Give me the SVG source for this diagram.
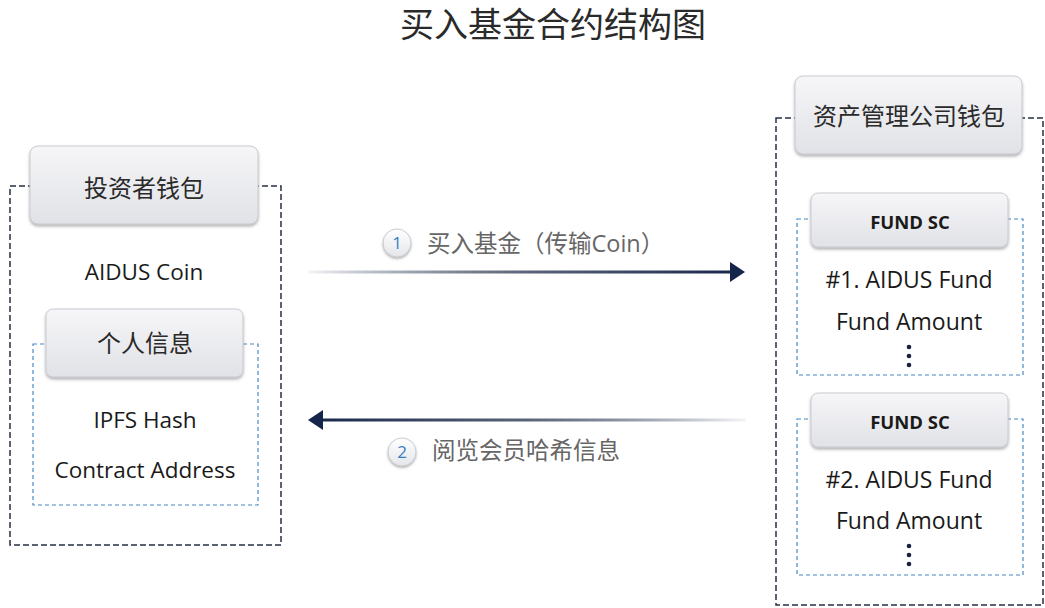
<svg xmlns="http://www.w3.org/2000/svg" width="1045" height="608" viewBox="0 0 1045 608">
<style>
.outer{fill:none;stroke:#263046;stroke-width:1.5;stroke-dasharray:6,3}
.inner{fill:none;stroke:#4a88c7;stroke-width:1.2;stroke-dasharray:4,3}
.hdr{fill:url(#hg);stroke:#c9cbd1;stroke-width:1;filter:url(#sh)}
.cjk{font-family:"Noto Sans CJK SC",sans-serif;fill:#2a2a2a;text-anchor:middle}
.lat{font-family:"Open Sans","Noto Sans",sans-serif;fill:#1a1a1a;text-anchor:middle}
.lbl{font-family:"Open Sans","Noto Sans CJK SC",sans-serif;fill:#666;font-size:23.5px}
.num{font-family:"Open Sans",sans-serif;fill:#3b7dc4;font-size:17px;text-anchor:middle}
.dot{fill:#1a2140}
</style>
<defs>
<linearGradient id="hg" x1="0" y1="0" x2="0" y2="1">
<stop offset="0" stop-color="#f6f6f8"/>
<stop offset="1" stop-color="#e1e2e7"/>
</linearGradient>
<linearGradient id="cg" x1="0" y1="0" x2="0" y2="1">
<stop offset="0" stop-color="#ffffff"/>
<stop offset="1" stop-color="#e4e6ea"/>
</linearGradient>
<linearGradient id="a1" x1="308" y1="0" x2="745" y2="0" gradientUnits="userSpaceOnUse">
<stop offset="0" stop-color="#1a2a4a" stop-opacity="0.05"/>
<stop offset="0.5" stop-color="#5a6478"/>
<stop offset="1" stop-color="#15244a"/>
</linearGradient>
<linearGradient id="a2" x1="745" y1="0" x2="308" y2="0" gradientUnits="userSpaceOnUse">
<stop offset="0" stop-color="#1a2a4a" stop-opacity="0.05"/>
<stop offset="0.5" stop-color="#5a6478"/>
<stop offset="1" stop-color="#15244a"/>
</linearGradient>
<filter id="sh" x="-10%" y="-10%" width="120%" height="130%">
<feDropShadow dx="0" dy="2" stdDeviation="1.5" flood-color="#555" flood-opacity="0.45"/>
</filter>
<filter id="csh" x="-30%" y="-30%" width="160%" height="170%">
<feDropShadow dx="0" dy="1.5" stdDeviation="1" flood-color="#666" flood-opacity="0.5"/>
</filter>
</defs>
<rect width="1045" height="608" fill="#ffffff"/>
<text id="title" x="553" y="37" class="cjk" font-size="34" fill="#333">买入基金合约结构图</text>

<g id="investor">
<rect class="outer" x="10" y="186" width="271" height="359"/>
<rect class="hdr" x="30" y="146" width="228" height="78" rx="8"/>
<text x="144" y="197" class="cjk" font-size="24">投资者钱包</text>
<text x="144" y="280" class="lat" font-size="22.5">AIDUS Coin</text>
</g>
<g id="personal">
<rect class="inner" x="33" y="344" width="225" height="161"/>
<rect class="hdr" x="46" y="309" width="197" height="68" rx="7"/>
<text x="145" y="352" class="cjk" font-size="24">个人信息</text>
<text x="145" y="428" class="lat" font-size="22.5">IPFS Hash</text>
<text x="145" y="478" class="lat" font-size="22.5">Contract Address</text>
</g>

<g id="company">
<rect class="outer" x="776" y="118" width="267" height="487"/>
<rect class="hdr" x="795" y="76" width="227" height="78" rx="8"/>
<text x="909" y="125" class="cjk" font-size="24">资产管理公司钱包</text>
</g>
<g id="fund1">
<rect class="inner" x="797" y="219" width="226" height="156"/>
<rect class="hdr" x="811" y="193" width="197" height="54" rx="7"/>
<text x="910" y="229" class="lat" font-size="18.5" font-weight="bold">FUND SC</text>
<text x="909" y="288" class="lat" font-size="23">#1. AIDUS Fund</text>
<text x="909" y="330" class="lat" font-size="23">Fund Amount</text>
<circle class="dot" cx="909" cy="347" r="2.3"/>
<circle class="dot" cx="909" cy="356" r="2.3"/>
<circle class="dot" cx="909" cy="365" r="2.3"/>
</g>
<g id="fund2">
<rect class="inner" x="797" y="419" width="226" height="156"/>
<rect class="hdr" x="811" y="393" width="197" height="54" rx="7"/>
<text x="910" y="429" class="lat" font-size="18.5" font-weight="bold">FUND SC</text>
<text x="909" y="488" class="lat" font-size="23">#2. AIDUS Fund</text>
<text x="909" y="529" class="lat" font-size="23">Fund Amount</text>
<circle class="dot" cx="909" cy="546" r="2.3"/>
<circle class="dot" cx="909" cy="555" r="2.3"/>
<circle class="dot" cx="909" cy="564" r="2.3"/>
</g>

<g id="connectors">
<rect x="308" y="270.5" width="424" height="3" fill="url(#a1)"/>
<path d="M730,262 L745,272 L730,282 Z" fill="#15244a"/>
<circle cx="397" cy="243" r="14" fill="url(#cg)" stroke="#c9ccd3" filter="url(#csh)"/>
<text x="397" y="249" class="num">1</text>
<text x="427" y="252" class="lbl">买入基金（传输Coin）</text>

<rect x="322" y="418.5" width="424" height="3" fill="url(#a2)"/>
<path d="M323,410 L308,420 L323,430 Z" fill="#15244a"/>
<circle cx="402" cy="452" r="14" fill="url(#cg)" stroke="#c9ccd3" filter="url(#csh)"/>
<text x="402" y="458" class="num">2</text>
<text x="432" y="459" class="lbl">阅览会员哈希信息</text>
</g>
</svg>
